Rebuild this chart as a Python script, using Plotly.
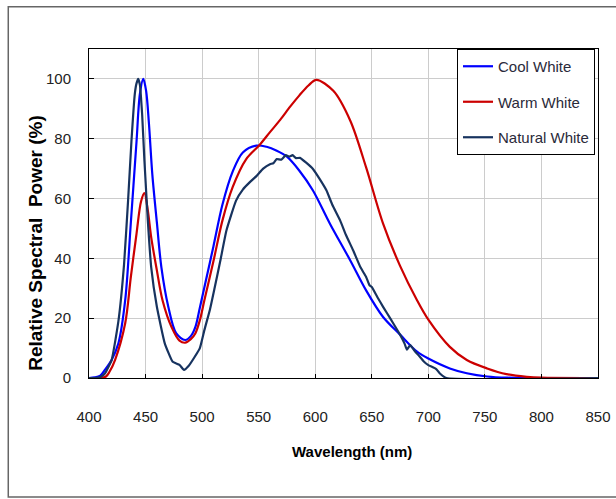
import plotly.graph_objects as go

# ---- data ----
cool_wl = [400, 405, 410, 414, 420, 426, 432, 437, 442, 445, 448, 450.5, 453, 456, 460, 464, 470, 477,
           485, 490, 494, 498, 503, 510, 518, 527, 536, 548, 557, 566, 575, 586, 598, 613, 631, 645,
           660, 675, 690, 700, 719, 734, 752, 770, 800, 850]
cool_val = [0, 0.2, 0.8, 2.7, 6, 11.6, 26, 52, 79, 95, 100, 96, 85, 68, 52, 37, 24, 15,
            12.7, 14, 17, 23.5, 32, 44, 58, 69, 75.4, 77.7, 77.3, 76, 74, 69.3, 62.7, 51.6, 39.3, 29.3,
            20.4, 14.5, 8.8, 6.5, 3.2, 1.6, 0.5, 0.1, 0, 0]

warm_wl = [400, 410, 415, 418, 423, 432, 437, 442, 446, 449, 452, 455, 460, 465, 473, 480, 485,
           490, 494, 498, 502, 510, 518, 527, 539, 551, 560, 569, 578, 586, 594, 601, 616, 631, 645,
           660, 675, 690, 700, 719, 734, 752, 769, 787, 800, 850]
warm_val = [0, 0, 0.5, 2, 6, 18.3, 33.8, 48.2, 59, 61.8, 56, 47, 36, 26, 17, 12.5, 11.8,
            13, 14.9, 19.3, 26, 39, 52.7, 63.8, 73.2, 78, 82.2, 86.3, 90.8, 94.5, 97.8, 99.7, 96, 86, 70.4,
            51.6, 37.5, 26, 19.5, 10.4, 6, 3.2, 1.3, 0.4, 0.1, 0]

natural_wl = [400, 405, 410, 414, 420, 426, 431, 434.5, 437.5, 440.5, 442, 443.5, 445, 447, 449, 452,
              455, 460, 467, 474, 480, 484, 488, 493.5, 498, 502, 507, 511, 516, 521.5, 530, 536,
              542, 548, 554, 560, 563, 566, 570, 574, 577, 580, 583, 586.5, 592, 598, 604, 610,
              615, 622, 627, 633.5, 640, 645, 648, 650, 655, 660, 667, 675, 679, 681, 684, 688,
              692.5, 696, 700, 704, 707, 710, 716, 850]
natural_val = [0, 0, 0.3, 1.5, 6, 19, 38, 59, 79, 95, 98.5, 100, 98, 88, 72.7, 52.7,
               37, 23.8, 11.6, 5.4, 4.4, 2.7, 4, 7.1, 10, 16, 23, 30, 39, 49.3, 59.3, 63,
               65.4, 67.5, 70, 71.5, 71.8, 73.2, 73, 74.5, 74, 74.5, 73.5, 73.6, 72, 69.9, 66.5, 62.7,
               58, 52.7, 48, 42.7, 37, 33.8, 31, 30.4, 27, 23.8, 19.5, 14.5, 11.5, 9.5, 11, 9,
               7.1, 5.5, 4.3, 3.6, 3, 1.6, 0, 0]

series = [
    ("Cool White", cool_wl, cool_val, "#0000FF", 0.9),
    ("Warm White", warm_wl, warm_val, "#CC0000", 0.9),
    ("Natural White", natural_wl, natural_val, "#17335F", 0.4),
]

x_ticks = [400, 450, 500, 550, 600, 650, 700, 750, 800, 850]
y_ticks = [0, 20, 40, 60, 80, 100]

SANS = "Liberation Sans, Arial, sans-serif"

fig = go.Figure()
for name, xs, ys, color, smooth in series:
    fig.add_trace(go.Scatter(
        x=xs, y=ys, mode="lines", name=name, legendgroup=name,
        line=dict(color=color, width=2.2, shape="spline", smoothing=smooth),
    ))

fig.update_layout(
    width=616, height=499,
    margin=dict(l=89, r=18, t=49, b=121, autoexpand=False),
    paper_bgcolor="white", plot_bgcolor="white",
    showlegend=True,
    legend=dict(
        x=0.723, y=1.0, xanchor="left", yanchor="top",
        bgcolor="white", bordercolor="black", borderwidth=1,
        font=dict(family=SANS, size=15, color="#2a2a3a"),
        tracegroupgap=13, traceorder="grouped",
    ),
    xaxis=dict(
        range=[400, 850], tickvals=x_ticks, ticktext=[str(v) for v in x_ticks],
        showgrid=True, gridcolor="#cccccc", gridwidth=1,
        showline=True, linecolor="black", linewidth=1, mirror=True,
        ticks="inside", ticklen=4, tickcolor="black",
        tickfont=dict(family=SANS, size=15, color="#222222"),
        ticklabelstandoff=25, zeroline=False,
    ),
    yaxis=dict(
        range=[0, 110], tickvals=y_ticks, ticktext=[str(v) for v in y_ticks],
        showgrid=True, gridcolor="#cccccc", gridwidth=1,
        showline=True, linecolor="black", linewidth=1, mirror=True,
        ticks="inside", ticklen=5, tickcolor="black",
        tickfont=dict(family=SANS, size=15, color="#222222"),
        ticklabelstandoff=14, zeroline=False,
    ),
    annotations=[
        dict(text="<b>Wavelength (nm)</b>", xref="paper", yref="paper",
             x=0.516, y=-0.222, xanchor="center", yanchor="middle", showarrow=False,
             font=dict(family=SANS, size=15, color="black")),
        dict(text="<b>Relative Spectral  Power (%)</b>", xref="paper", yref="paper",
             x=-0.1067, y=0.41, xanchor="center", yanchor="middle", showarrow=False,
             textangle=-90, font=dict(family=SANS, size=19, color="black")),
    ],
    shapes=[
        dict(type="rect", xref="paper", yref="paper",
             x0=-0.1586, x1=1.05, y0=-0.362, y1=1.1287,
             line=dict(color="#666666", width=1.5), fillcolor="rgba(0,0,0,0)", layer="below"),
    ],
)

fig.write_html("out.html")
